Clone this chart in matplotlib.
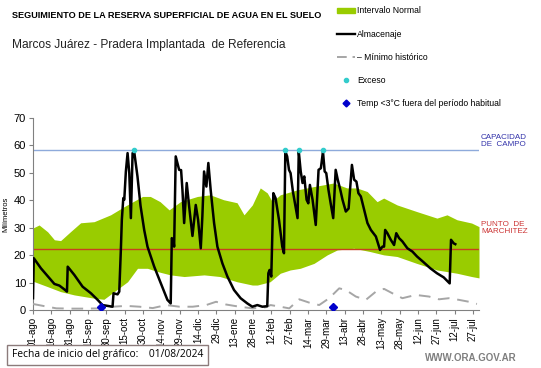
import matplotlib
matplotlib.use('Agg')
import matplotlib.pyplot as plt
from matplotlib.lines import Line2D
from matplotlib.patches import Patch
import numpy as np

plt.rcParams['font.family'] = ['Liberation Sans', 'DejaVu Sans']

# days since 01/08/2024
band_top_day = [0, 5, 12, 17.5, 22.6, 30.8, 39, 50, 63.5, 74.7, 89.6, 96, 104, 111.4, 120.7,
                134.6, 145, 156, 167, 172.7, 179.5, 186, 191.7, 195.8, 202.4, 216.3, 230, 246,
                257, 265, 273.5, 281.6, 287, 298, 314, 330.6, 338.8, 347, 359, 365]
band_top = [29.9, 31.0, 28.5, 25.6, 25.3, 28.6, 31.8, 32.2, 34.7, 37.7, 41.4, 41.4, 39.5, 36.5, 39.5,
            41.4, 42.0, 40.2, 39.1, 34.7, 38.3, 44.5, 42.7, 39.5, 42.0, 43.8, 45.0, 46.3,
            44.5, 44.5, 43.2, 39.5, 40.8, 38.3, 35.9, 33.5, 34.7, 32.9, 31.7, 30.4]
band_low_day = [0, 12, 22.6, 33.8, 50, 58, 66.5, 77.4, 85.5, 93.7, 102, 112.5, 123.7, 140, 153,
                167, 179.5, 183.6, 194, 202.4, 210.5, 218.7, 230, 240.8, 249, 262.6, 269.4,
                276, 287, 298, 314, 330.6, 347, 359, 365]
band_low = [10.5, 8.5, 6.7, 5.5, 4.3, 3.9, 6.7, 10.3, 15.2, 15.2, 14.0, 12.8, 12.2, 12.8, 12.2,
            10.3, 9.1, 9.1, 10.3, 13.4, 14.6, 15.2, 17.0, 20.1, 21.9, 22.5, 21.9,
            21.3, 20.1, 19.5, 17.0, 14.6, 13.4, 12.2, 11.7]

alm_day = [0, 0.6, 6.5, 13.4, 17.5, 21.6, 25.7, 27.8, 28.4, 33.8, 40.6, 47.4, 52.9, 56.9, 61, 65.1,
           65.9, 69.2, 70.6, 71.9, 72.7, 73.9, 74.7, 76, 77.4, 78.8, 80.1, 81.5, 82.8, 85.5, 88,
           91, 93.7, 99.2, 104.6, 110, 112.7, 113.6, 115, 115.5, 116.8, 119.6, 121.2, 122.3,
           123.7, 125.8, 127.8, 130.5, 133.2, 135.1, 137.3, 138.6, 140, 141.9, 143.5, 145.4,
           148.2, 150.9, 155, 159.1, 164.5, 169.9, 175.4, 179.5, 183.6, 187.7, 191.7, 192.6,
           193.6, 195, 196.7, 198.5, 201.3, 204, 205.4, 206.5, 208, 209.5, 210.8, 212.7, 214.9,
           216.5, 217.5, 219.1, 220.6, 222, 223.9, 225.3, 226.6, 228.8, 231.4, 233.7, 235.6,
           237.3, 238.7, 240, 241.8, 243.6, 245.7, 247.7, 249.4, 251.4, 253.3, 256, 258.3, 261,
           262.8, 264.7, 266.3, 268.3, 271, 273.7, 276.5, 280.6, 284, 286, 287.3, 288.2, 290,
           292.8, 295.5, 297.3, 299.6, 302.3, 306.4, 310.5, 314.3, 319.2, 325.2, 330.6, 336.1,
           341, 342.1, 344.3, 345.6]
alm = [4.3, 18.9, 15.2, 11.6, 9.5, 8.9, 7.5, 6.7, 15.8, 12.8, 8.5, 6.1, 3.7, 1.8, 1.5, 1.2,
       6.1, 5.7, 6.7, 21.9, 32.9, 40.8, 40.2, 50.5, 57.2, 49.9, 33.5, 57.2, 57.8, 48.7, 38.0,
       29.2, 23.1, 15.8, 9.7, 3.7, 2.4, 26.2, 25.0, 23.1, 56.0, 51.1, 51.0, 43.8,
       31.7, 46.3, 37.7, 27.0, 38.3, 32.9, 22.5, 34.1, 50.5, 45.0, 53.6, 43.8,
       31.7, 23.1, 17.0, 12.2, 7.3, 4.3, 2.4, 1.2, 1.8, 1.2, 1.4, 13.4,
       14.6, 12.2, 42.6, 40.8, 32.9, 23.1, 20.7, 57.8, 56.0, 51.1, 49.9, 43.2, 37.7,
       33.5, 57.8, 50.5, 46.3, 48.7, 40.2, 38.9, 45.6, 40.2, 31.0, 51.1, 51.7,
       57.8, 50.5, 49.9, 43.8, 38.9, 33.5, 51.1, 47.5, 44.0, 40.2, 35.9, 37.0, 52.9,
       47.5, 46.8, 42.6, 41.4, 36.5, 31.7, 29.2, 26.8, 21.9, 23.1, 23.1, 29.2, 28.0,
       25.6, 23.7, 28.0, 26.2, 25.0, 22.5, 21.3, 19.5, 17.6, 15.2, 13.4, 11.9,
       9.7, 25.6, 24.3, 24.0]

min_day = [0, 8.2, 19.1, 32.7, 43.6, 54.5, 65.4, 76.3, 87.2, 98, 109, 119.9, 130.7, 141.7, 149.8,
           158, 168.9, 179.7, 190.7, 194.4, 202.4, 209.7, 217.9, 226, 234.2, 242.4, 250.6, 256,
           264.2, 272.4, 280.6, 287.3, 294.1, 302.3, 313.2, 324.1, 332.3, 340.4, 348.6, 356.8, 363.3]
min_hist = [2.2, 1.5, 0.6, 0.5, 0.5, 0.6, 1.2, 1.5, 1.2, 0.7, 1.8, 1.2, 1.2, 1.8, 3.0,
            2.0, 1.2, 0.6, 1.0, 1.8, 1.2, 0.6, 3.9, 2.7, 1.8, 4.3, 7.9, 7.3,
            4.9, 3.7, 6.7, 7.7, 6.1, 4.3, 5.5, 4.9, 3.9, 4.3, 3.7, 3.0, 2.2]

exceso_day = [82.5, 206.4, 217.3, 237.4]
exceso_val = [58.2, 58.2, 58.2, 58.2]
frio_day = [56, 245.4]
frio_val = [1.2, 1.0]

cap_campo = 58.2
pto_marchitez = 22.2

tick_days = list(range(0, 361, 15))
tick_labels = ['01-ago', '16-ago', '31-ago', '15-sep', '30-sep', '15-oct', '30-oct', '14-nov',
               '29-nov', '14-dic', '29-dic', '13-ene', '28-ene', '12-feb', '27-feb', '14-mar',
               '29-mar', '13-abr', '28-abr', '13-may', '28-may', '12-jun', '27-jun', '12-jul',
               '27-jul']

green = '#99cc00'
gray = '#a6a6a6'

fig = plt.figure(figsize=(5.41, 3.68), dpi=100)
ax = fig.add_axes([33/541, 58/368, 446/541, 192/368])

# intervalo normal = band between the two envelopes
xx = np.union1d(band_top_day, band_low_day)
ax.fill_between(xx, np.interp(xx, band_low_day, band_low), np.interp(xx, band_top_day, band_top),
                color=green, lw=0, zorder=1)

ax.axhline(cap_campo, color='#8eaadb', lw=1, zorder=2)
ax.axhline(pto_marchitez, color='#c8401f', lw=1, zorder=2)

ax.plot(min_day, min_hist, color=gray, lw=1.4, dashes=(6, 4), zorder=3)
ax.plot(alm_day, alm, color='black', lw=1.8, zorder=4)
ax.plot(exceso_day, exceso_val, 'o', color='#33cccc', ms=3, zorder=5)
ax.plot(frio_day, frio_val, 'D', color='#0000cc', ms=4.5, zorder=5)

ax.set_xlim(0, 365)
ax.set_ylim(0, 70)
ax.set_yticks(range(0, 71, 10))
ax.set_xticks(tick_days)
ax.set_xticklabels(tick_labels, rotation=90, fontsize=7)
ax.tick_params(axis='y', labelsize=8, length=3, color='#808080', pad=2)
ax.tick_params(axis='x', length=3, color='#808080', pad=2)
for s in ['top', 'right']:
    ax.spines[s].set_visible(False)
for s in ['left', 'bottom']:
    ax.spines[s].set_color('#808080')
ax.set_ylabel('Milímetros', fontsize=5.5, labelpad=3)

fig.text(481/541, 1 - 141/368, 'CAPACIDAD\nDE  CAMPO', fontsize=5.8, color='#3333aa',
         va='center', ha='left', linespacing=1.1)
fig.text(481/541, 1 - 228/368, 'PUNTO  DE\nMARCHITEZ', fontsize=5.8, color='#cc3333',
         va='center', ha='left', linespacing=1.1)

fig.text(12/541, 1 - 15/368, 'SEGUIMIENTO DE LA RESERVA SUPERFICIAL DE AGUA EN EL SUELO',
         fontsize=6.6, fontweight='bold', va='center')
fig.text(12/541, 1 - 45/368, 'Marcos Juárez - Pradera Implantada  de Referencia',
         fontsize=8.6, va='center', color='#222222')

handles = [Patch(color=green),
           Line2D([], [], color='black', lw=1.7),
           Line2D([], [], color=gray, lw=1.4, dashes=(5, 3)),
           Line2D([], [], ls='', marker='o', color='#33cccc', ms=3),
           Line2D([], [], ls='', marker='D', color='#0000cc', ms=3.5)]
labels = ['Intervalo Normal', 'Almacenaje', '– Mínimo histórico', 'Exceso',
          'Temp <3°C fuera del período habitual']
fig.legend(handles, labels, loc='upper left', bbox_to_anchor=(334/541, 1 - 3/368),
           frameon=False, fontsize=6.2, handlelength=2.0, handleheight=0.6,
           handletextpad=0.3, labelspacing=1.65, borderaxespad=0)

fig.text(12/541, 1 - 355/368, 'Fecha de inicio del gráfico:    01/08/2024', fontsize=7.4,
         family='Open Sans', va='center',
         bbox=dict(boxstyle='square,pad=0.45', fc='white', ec='#8c7b7b', lw=1))
fig.text(517/541, 1 - 358/368, 'WWW.ORA.GOV.AR', fontsize=7, color='#7f7f7f',
         fontweight='bold', ha='right', va='center')

plt.savefig('out.png', dpi=100)
